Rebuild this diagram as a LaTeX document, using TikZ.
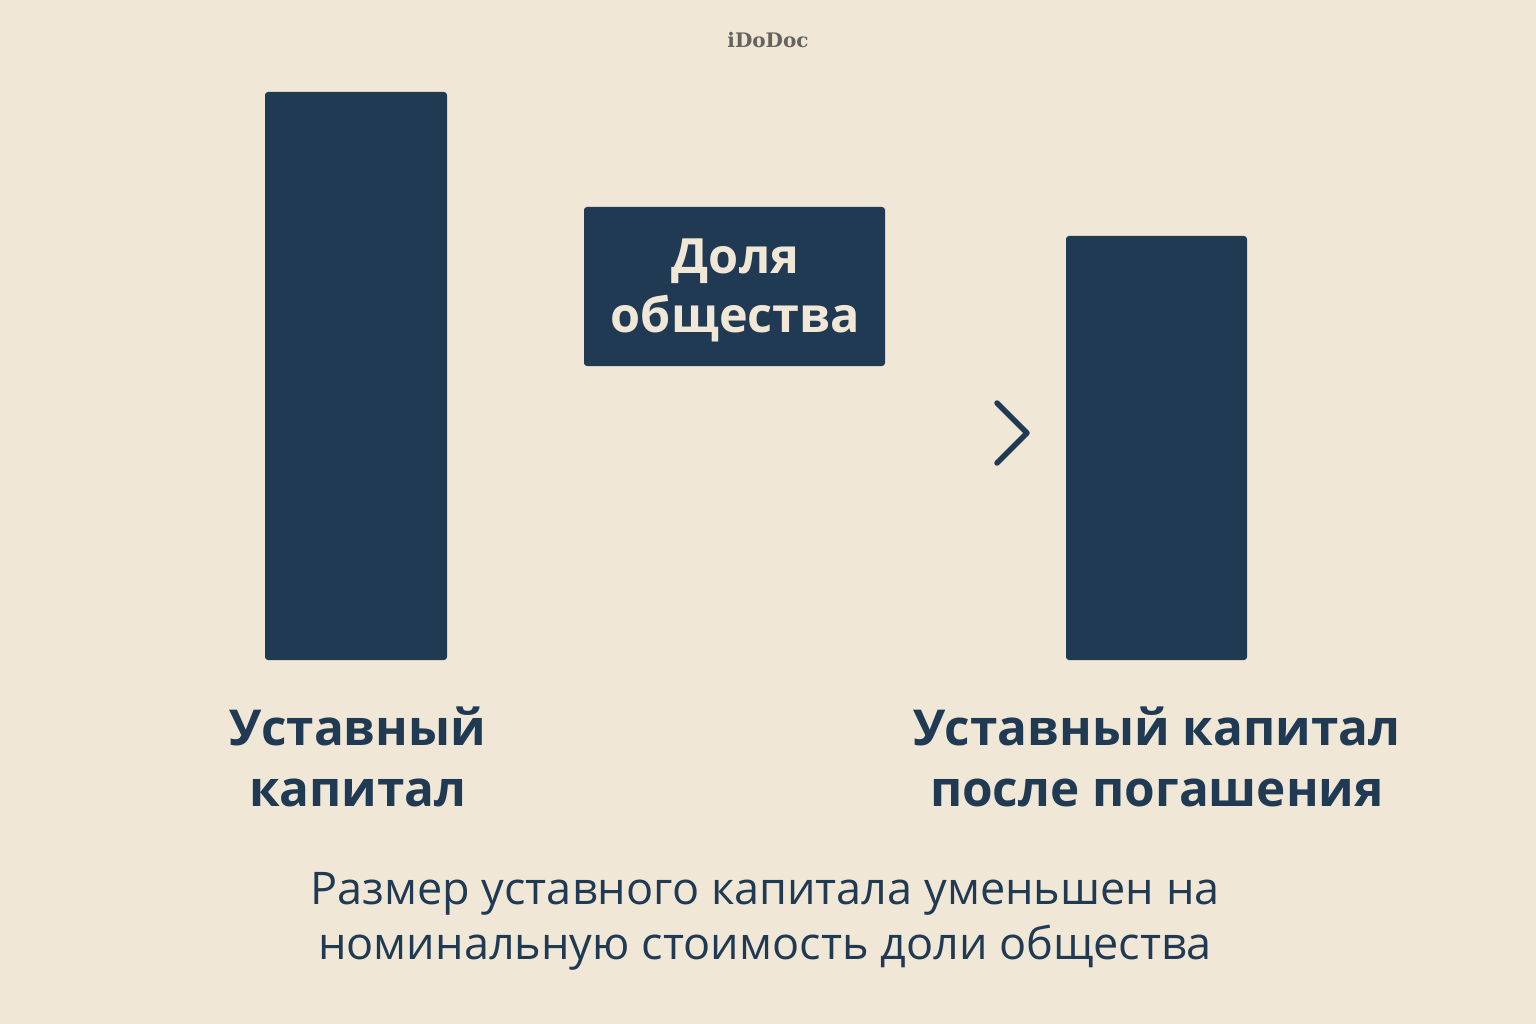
\documentclass[tikz,border=0pt]{standalone}
\usepackage{fontspec}
\setmainfont{Open Sans}
\newfontfamily\wmfont{DejaVu Serif}
\definecolor{bg}{HTML}{F1E7D6}
\definecolor{navy}{HTML}{1F3A52}
\definecolor{wm}{HTML}{66625E}
\begin{document}
\begin{tikzpicture}[x=1pt,y=-1pt,
  bar/.style={fill=navy,rounded corners=3pt},
  lbl/.style={text=navy,font=\fontsize{49.5}{61}\selectfont\bfseries,align=center,inner sep=0pt},
  note/.style={text=navy,font=\fontsize{45}{55}\selectfont,align=center,inner sep=0pt}]
\useasboundingbox (0,0) rectangle (1536,1024);
\fill[bg] (0,0) rectangle (1536,1024);
\node[text=wm,font=\wmfont\bfseries\fontsize{20}{24}\selectfont,inner sep=0pt] (wmk) at (768,40) {iDoDoc};
\fill[bar] (265,92) rectangle (447,660);
\node[bar,minimum width=301pt,minimum height=159pt,inner sep=0pt] (share) at (734.5,286.5) {};
\node[text=bg,font=\fontsize{48.6}{59}\selectfont\bfseries,align=center,inner sep=0pt] (sharetxt) at (735.5,290.5) {Доля\\общества};
\fill[bar] (1066,236) rectangle (1247,660);
\coordinate (c1) at (997,403);
\coordinate (c2) at (1027,433);
\coordinate (c3) at (997,463);
\draw[navy,line width=5.5pt,line cap=round,line join=round] (c1) -- (c2) -- (c3);
\node[lbl] (l1) at (358,757) {Уставный\\капитал};
\node[lbl] (l2) at (1157,757) {Уставный капитал\\после погашения};
\node[note] (n) at (765,921) {Размер уставного капитала уменьшен на\\номинальную стоимость доли общества};
\end{tikzpicture}
\end{document}
